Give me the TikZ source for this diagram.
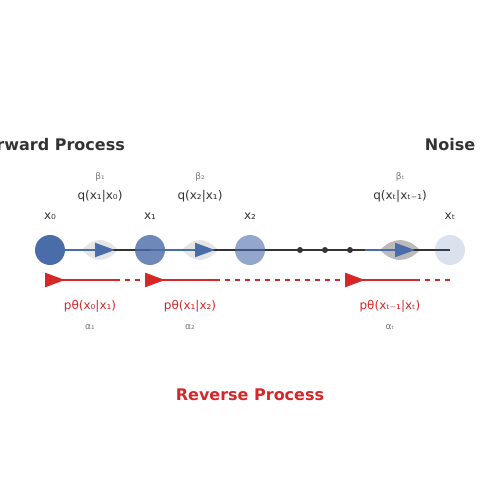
\documentclass[tikz,border=0pt]{standalone}
\usepackage{fontspec}
\setmainfont{DejaVu Sans}
\usetikzlibrary{arrows.meta,positioning,backgrounds}
\definecolor{stateblue}{RGB}{74,108,168}
\definecolor{darktext}{RGB}{51,51,51}
\definecolor{softgray}{RGB}{119,119,119}
\definecolor{revred}{RGB}{214,39,40}
\definecolor{lenslight}{RGB}{229,229,229}
\definecolor{lensdark}{RGB}{187,187,187}
\tikzstyle{state} = [circle, minimum size=30pt, inner sep=0pt, fill=stateblue]
\tikzstyle{dot} = [circle, minimum size=6pt, inner sep=0pt, fill=darktext]
\tikzstyle{heading} = [font=\fontsize{16}{19}\selectfont\bfseries, inner sep=0pt]
\tikzstyle{kernel} = [font=\fontsize{12}{14}\selectfont, text=darktext, inner sep=0pt]
\tikzstyle{revkernel} = [font=\fontsize{12}{14}\selectfont, text=revred, inner sep=0pt]
\tikzstyle{coef} = [font=\fontsize{9}{11}\selectfont, text=softgray, inner sep=0pt]
\tikzstyle{chain} = [line width=2pt, draw=darktext]
\tikzstyle{fwd} = [line width=2pt, draw=stateblue, -{Triangle[length=20pt,width=14pt]}]
\tikzstyle{rev} = [line width=2.5pt, draw=revred, {Triangle[reversed,length=20pt,width=14pt]}-]
\tikzstyle{revdash} = [line width=2.5pt, draw=revred, dash pattern=on 5pt off 5pt]

\begin{document}
\begin{tikzpicture}[x=1pt, y=-1pt, node distance=100pt]
\useasboundingbox (0,0) rectangle (500,500);

\node (x0) [state] at (50,250) {};
\node (x1) [state, right of=x0, fill opacity=0.8] {};
\node (x2) [state, right of=x1, fill opacity=0.6] {};
\node (xt) [state, fill opacity=0.2] at (450,250) {};

\node (d1) [dot] at (300,250) {};
\node (d2) [dot] at (325,250) {};
\node (d3) [dot] at (350,250) {};

\node (lx0) [kernel] at (50,216) {x₀};
\node (lx1) [kernel] at (150,216) {x₁};
\node (lx2) [kernel] at (250,216) {x₂};
\node (lxt) [kernel] at (450,216) {xₜ};

\node (fwdtitle) [heading, text=darktext] at (50,145) {Forward Process};
\node (noise) [heading, text=darktext] at (450,145) {Noise};
\node (revtitle) [heading, text=revred] at (250,395) {Reverse Process};

\node (b1) [coef] at (100,177) {β₁};
\node (q1) [kernel] at (100,196) {q(x₁|x₀)};
\node (b2) [coef] at (200,177) {β₂};
\node (q2) [kernel] at (200,196) {q(x₂|x₁)};
\node (bT) [coef] at (400,177) {βₜ};
\node (qT) [kernel] at (400,196) {q(xₜ|xₜ₋₁)};

\node (p1) [revkernel] at (90,306) {pθ(x₀|x₁)};
\node (a1) [coef] at (90,327) {α₁};
\node (p2) [revkernel] at (190,306) {pθ(x₁|x₂)};
\node (a2) [coef] at (190,327) {α₂};
\node (pT) [revkernel] at (390,306) {pθ(xₜ₋₁|xₜ)};
\node (aT) [coef] at (390,327) {αₜ};

\coordinate (f1) at (115,250);
\coordinate (f2) at (215,250);
\coordinate (fTs) at (365,250);
\coordinate (fT) at (415,250);

\coordinate (r0) at (45,280);
\coordinate (r0e) at (120,280);
\coordinate (r1) at (145,280);
\coordinate (r1e) at (220,280);
\coordinate (r2) at (345,280);
\coordinate (r2e) at (420,280);
\coordinate (rT) at (450,280);

\begin{pgfonlayer}{background}
\fill [lenslight] (82,250) .. controls (94,236.7) and (106,236.7) .. (118,250) .. controls (106,263.3) and (94,263.3) .. (82,250);
\fill [lenslight] (182,250) .. controls (194,236.7) and (206,236.7) .. (218,250) .. controls (206,263.3) and (194,263.3) .. (182,250);
\fill [lensdark] (380,250) .. controls (393,236.7) and (407,236.7) .. (420,250) .. controls (407,263.3) and (393,263.3) .. (380,250);

\draw [chain] (x0.center) -- (xt.center);
\draw [fwd] (x0.center) -- (f1);
\draw [fwd] (x1.center) -- (f2);
\draw [fwd] (fTs) -- (fT);
\end{pgfonlayer}

\draw [revdash] (r0) -- (rT);
\draw [rev] (r0) -- (r0e);
\draw [rev] (r1) -- (r1e);
\draw [rev] (r2) -- (r2e);

\end{tikzpicture}
\end{document}
